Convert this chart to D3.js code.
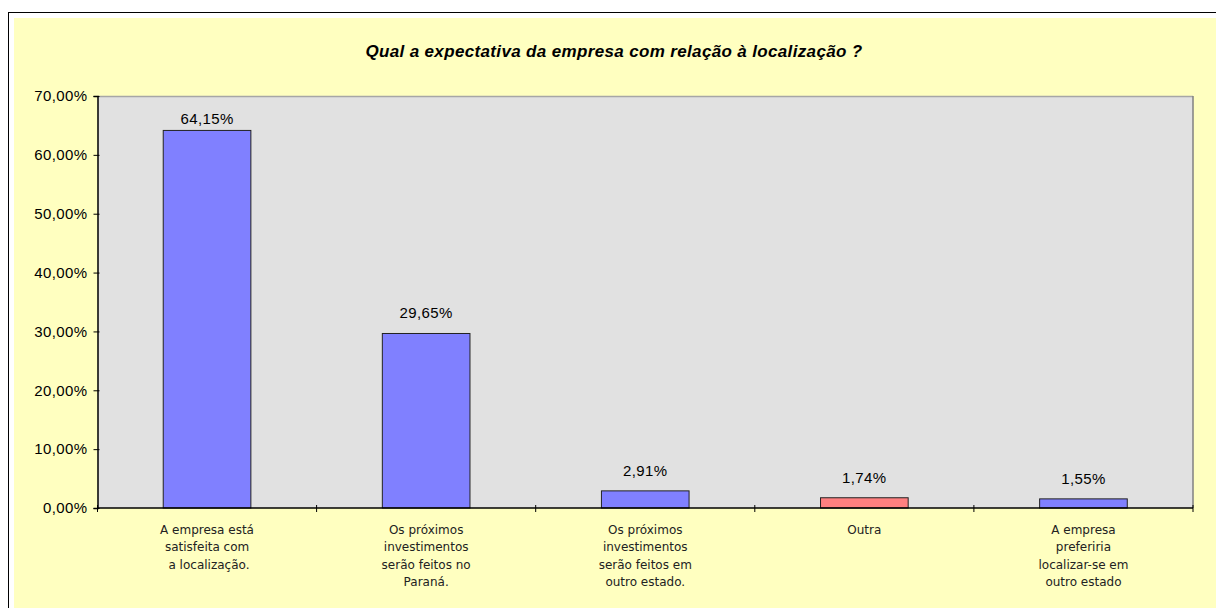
<!DOCTYPE html>
<html>
<head>
<meta charset="utf-8">
<script src="https://cdn.jsdelivr.net/npm/d3@7"></script>
<style>
  html, body { margin: 0; padding: 0; background: #ffffff; }
  svg { display: block; }
</style>
</head>
<body>
<svg id="chart" width="1216" height="608"></svg>
<script>
// ---- data ----
const title = "Qual a expectativa da empresa com relação à localização ?";
const categories = [
  "A empresa está satisfeita com a localização.",
  "Os próximos investimentos serão feitos no Paraná.",
  "Os próximos investimentos serão feitos em outro estado.",
  "Outra",
  "A empresa preferiria localizar-se em outro estado"
];
const categoryLines = [
  ["A empresa está", "satisfeita com", "\u00A0a localização."],
  ["Os próximos", "investimentos", "serão feitos no", "Paraná."],
  ["Os próximos", "investimentos", "serão feitos em", "outro estado."],
  ["Outra"],
  ["A empresa", "preferiria", "localizar-se em", "outro estado"]
];
const values = [0.6415, 0.2965, 0.0291, 0.0174, 0.0155];
const yTicks = [0, 0.1, 0.2, 0.3, 0.4, 0.5, 0.6, 0.7];

// ---- styles ----
const barBlue = "#8080FF";
const barRed = "#FF8080";
const redCategory = "Outra";

(function () {
const svg = d3.select("#chart");
const W = 1216, H = 608;

// outer frame
svg.append("rect").attr("x", 0).attr("y", 0).attr("width", W).attr("height", H).attr("fill", "#ffffff");
svg.append("rect").attr("x", 8.5).attr("y", 12.5).attr("width", W).attr("height", H)
  .attr("fill", "#ffffff").attr("stroke", "#000000").attr("stroke-width", 1);
svg.append("rect").attr("x", 14).attr("y", 18).attr("width", W).attr("height", H).attr("fill", "#FFFFC0");

// title
svg.append("text").attr("x", 614).attr("y", 57)
  .attr("text-anchor", "middle")
  .attr("font-family", "Liberation Sans, Arial, sans-serif")
  .attr("font-size", 17).attr("letter-spacing", 0.35)
  .attr("font-weight", "bold").attr("font-style", "italic")
  .attr("fill", "#000").text(title);

const pLeft = 97.5, pRight = 1193, pTop = 96, pBottom = 508;

const x = d3.scaleBand().domain(categories).range([pLeft, pRight]).paddingInner(0.6).paddingOuter(0.3);
const y = d3.scaleLinear().domain([0, 0.7]).range([pBottom, pTop]);

// plot area
svg.append("rect").attr("x", pLeft).attr("y", pTop).attr("width", pRight - pLeft).attr("height", pBottom - pTop)
  .attr("fill", "#E1E1E1");
svg.append("line").attr("x1", pLeft).attr("x2", pRight).attr("y1", pTop + 0.5).attr("y2", pTop + 0.5)
  .attr("stroke", "#A6A6A6").attr("stroke-width", 1.5);
svg.append("line").attr("x1", pRight).attr("x2", pRight).attr("y1", pTop).attr("y2", pBottom)
  .attr("stroke", "#808080").attr("stroke-width", 1.5);

// bars
svg.selectAll("rect.bar").data(categories).enter().append("rect")
  .attr("class", "bar")
  .attr("x", d => x(d))
  .attr("y", (d, i) => y(values[i]))
  .attr("width", x.bandwidth())
  .attr("height", (d, i) => pBottom - y(values[i]))
  .attr("fill", d => d === redCategory ? barRed : barBlue)
  .attr("stroke", "#222").attr("stroke-width", 1);

const fmt = v => (v * 100).toFixed(2).replace(".", ",") + "%";

// value labels
svg.selectAll("text.val").data(categories).enter().append("text")
  .attr("class", "val")
  .attr("x", d => x(d) + x.bandwidth() / 2)
  .attr("y", (d, i) => Math.max(y(values[i]) - 15, pTop + 28))
  .attr("text-anchor", "middle")
  .attr("font-family", "Liberation Sans, Arial, sans-serif")
  .attr("font-size", 15).attr("letter-spacing", 0.4)
  .attr("fill", "#000")
  .text((d, i) => fmt(values[i]));

// y axis
const yAxis = d3.axisLeft(y).tickValues(yTicks).tickFormat(fmt).tickSize(4).tickPadding(6);
const gy = svg.append("g").attr("transform", `translate(${pLeft},0)`).call(yAxis);
gy.select(".domain").attr("stroke", "#000").attr("stroke-width", 1.5);
gy.selectAll(".tick line").attr("stroke", "#000").attr("x2", -4).attr("x1", 2);
gy.selectAll(".tick text")
  .attr("font-family", "Liberation Sans, Arial, sans-serif")
  .attr("font-size", 15).attr("letter-spacing", 0.4).attr("fill", "#000");

// x axis line
svg.append("line").attr("x1", pLeft).attr("x2", pRight).attr("y1", pBottom).attr("y2", pBottom)
  .attr("stroke", "#000").attr("stroke-width", 1.5);
// boundary ticks
const step = x.step();
const boundaries = d3.range(categories.length + 1).map(i =>
  i < categories.length ? x(categories[i]) - step * 0.3 : x(categories[i - 1]) + x.bandwidth() + step * 0.3);
svg.selectAll("line.xt").data(boundaries).enter().append("line")
  .attr("x1", d => d).attr("x2", d => d).attr("y1", pBottom - 3).attr("y2", pBottom + 4)
  .attr("stroke", "#000").attr("stroke-width", 1);

// category labels
const lab = svg.selectAll("text.cat").data(categories).enter().append("text")
  .attr("class", "cat")
  .attr("text-anchor", "middle")
  .attr("font-family", "DejaVu Sans, Verdana, sans-serif")
  .attr("font-size", 12)
  .attr("fill", "#222");
lab.each(function(d, i) {
  const t = d3.select(this);
  categoryLines[i].forEach((line, j) => {
    t.append("tspan").attr("x", x(d) + x.bandwidth() / 2).attr("y", pBottom + 26 + j * 17.4).text(line);
  });
});
})();
</script>
</body>
</html>
